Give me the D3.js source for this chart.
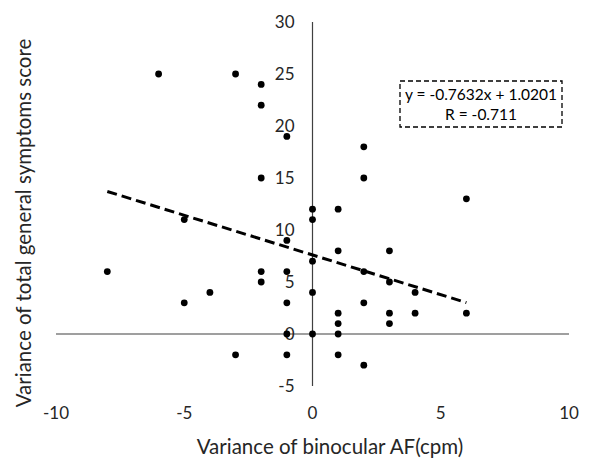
<!DOCTYPE html>
<html>
<head>
<meta charset="utf-8">
<script src="https://cdn.jsdelivr.net/npm/d3@7"></script>
<style>
  body { margin: 0; background: #fff; }
  svg { display: block; font-family: Lato, "Open Sans", sans-serif; }
</style>
</head>
<body>
<div id="chart"></div>
<script>
// paired values
const afVariance = [-8, -6, -5, -5, -4, -3, -3, -2, -2, -2, -2, -2, -1, -1, -1, -1, -1, -1,
  0, 0, 0, 0, 0, 1, 1, 1, 1, 1, 1, 2, 2, 2, 2, 2, 3, 3, 3, 3, 4, 4, 6, 6];
const symptomVariance = [6, 25, 11, 3, 4, 25, -2, 24, 22, 15, 6, 5, 19, 9, 6, 3, 0, -2,
  12, 11, 7, 4, 0, 12, 8, 2, 1, 0, -2, 18, 15, 6, 3, -3, 8, 5, 2, 1, 4, 2, 13, 2];

const xTicks = [-10, -5, 0, 5, 10];
const yTicks = [-5, 0, 5, 10, 15, 20, 25, 30];

// trend line as drawn
const trendSlope = -0.7632;
const trendIntercept = 7.6;
const trendLabels = ["y = -0.7632x + 1.0201", "R = -0.711"];

const width = 589;
const height = 460;
const margin = { top: 22, right: 20, bottom: 74, left: 56 };

const points = afVariance.map((x, i) => ({ x, y: symptomVariance[i] }));

const x = d3.scaleLinear().domain([-10, 10]).range([margin.left, width - margin.right]);
const y = d3.scaleLinear().domain([-5, 30]).range([height - margin.bottom, margin.top]);

const svg = d3.select("#chart").append("svg").attr("width", width).attr("height", height);

// axes cross at zero
svg.append("line")
  .attr("x1", x(-10)).attr("x2", x(10))
  .attr("y1", y(0)).attr("y2", y(0))
  .attr("stroke", "#404040").attr("stroke-width", 1.2);

svg.append("line")
  .attr("x1", x(0)).attr("x2", x(0))
  .attr("y1", y(30)).attr("y2", y(-5))
  .attr("stroke", "#404040").attr("stroke-width", 1.2);

// tick labels: x at the bottom, y next to the vertical axis
svg.append("g")
  .selectAll("text")
  .data(xTicks)
  .join("text")
  .attr("x", (d) => x(d))
  .attr("y", 413)
  .attr("dy", "0.35em")
  .attr("text-anchor", "middle")
  .style("font-size", "17px")
  .attr("fill", "#262626")
  .text((d) => d);

svg.append("g")
  .selectAll("text")
  .data(yTicks)
  .join("text")
  .attr("x", x(0) - 18)
  .attr("y", (d) => y(d))
  .attr("dy", "0.35em")
  .attr("text-anchor", "end")
  .style("font-size", "17px")
  .attr("fill", "#262626")
  .text((d) => d);

// trend line
const xExtent = d3.extent(afVariance);
svg.append("line")
  .attr("x1", x(xExtent[0])).attr("y1", y(trendSlope * xExtent[0] + trendIntercept))
  .attr("x2", x(xExtent[1])).attr("y2", y(trendSlope * xExtent[1] + trendIntercept))
  .attr("stroke", "#000")
  .attr("stroke-width", 3)
  .attr("stroke-dasharray", "10,5");

// dots
svg.append("g")
  .selectAll("circle")
  .data(points)
  .join("circle")
  .attr("cx", (d) => x(d.x))
  .attr("cy", (d) => y(d.y))
  .attr("r", 3.4)
  .attr("fill", "#000");

// equation box
const box = svg.append("g").attr("transform", "translate(400,81)");
box.append("rect")
  .attr("width", 162).attr("height", 46)
  .attr("fill", "#fff")
  .attr("stroke", "#000")
  .attr("stroke-width", 1.3)
  .attr("stroke-dasharray", "5,3");
box.selectAll("text")
  .data(trendLabels)
  .join("text")
  .attr("x", 81)
  .attr("y", (d, i) => 14 + i * 20)
  .attr("dy", "0.35em")
  .attr("text-anchor", "middle")
  .style("font-size", "15.5px")
  .attr("fill", "#000")
  .text((d) => d);

// axis titles
svg.append("text")
  .attr("x", 330)
  .attr("y", 447)
  .attr("dy", "0.35em")
  .attr("text-anchor", "middle")
  .style("font-size", "20.5px")
  .attr("fill", "#262626")
  .text("Variance of binocular AF(cpm)");

svg.append("text")
  .attr("transform", "translate(24,223) rotate(-90)")
  .attr("dy", "0.35em")
  .attr("text-anchor", "middle")
  .style("font-size", "20.5px")
  .attr("fill", "#262626")
  .text("Variance of total general symptoms score");
</script>
</body>
</html>
